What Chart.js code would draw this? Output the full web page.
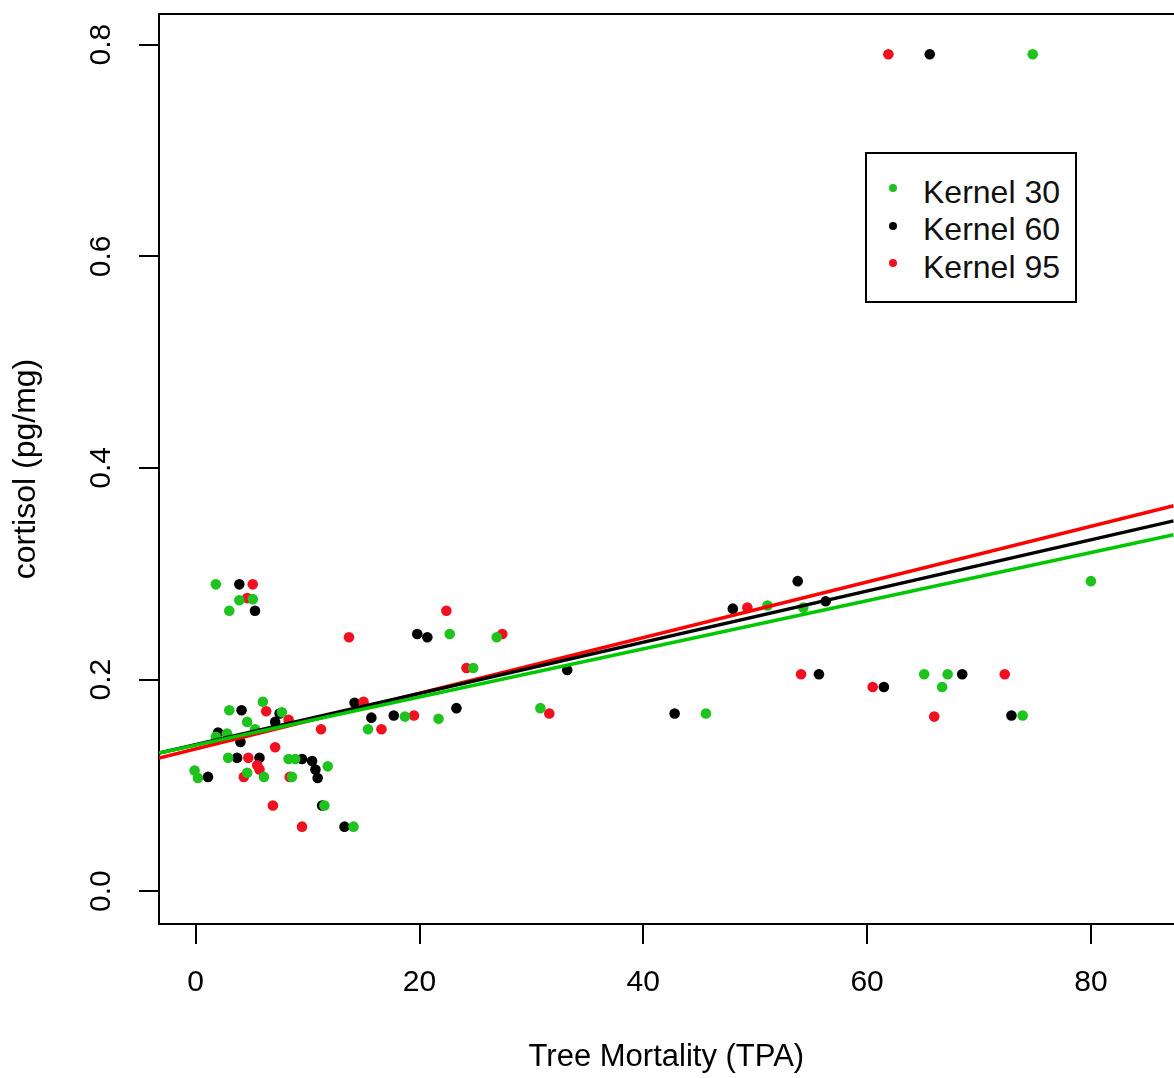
<!DOCTYPE html>
<html>
<head>
<meta charset="utf-8">
<script src="https://cdn.jsdelivr.net/npm/chart.js@4/dist/chart.umd.min.js"></script>
<style>
  html, body { margin: 0; padding: 0; background: #fff; overflow: hidden; }
  #wrap { position: relative; width: 1174px; height: 1078px; overflow: hidden; }
  #c { position: absolute; left: 0; top: 0; }
  .lg { position: absolute; font-family: "Liberation Sans", Arial, sans-serif; font-size: 32px; line-height: 32px; color: #111; white-space: nowrap; }
  .lgbox { position: absolute; border: 2px solid #000; box-sizing: border-box; background: #fff; }
  .lgdot { position: absolute; width: 8px; height: 8px; border-radius: 50%; }
</style>
</head>
<body>
<div id="wrap">
  <canvas id="c" width="1179" height="1078"></canvas>
</div>
<script>
// ---- data ----
const seriesNames = ['Kernel 30', 'Kernel 60', 'Kernel 95'];
const seriesColors = ['#1ec31e', '#000000', '#f01020'];
const lineColors = ['#00c800', '#000000', '#ff0000'];

const k30X = [74.8, 80.0, 51.1, 54.3, 65.1, 67.2, 66.7, 45.6, 73.9, 1.8, 3.9, 5.1, 3.0, 6.0, 3.0, 7.7, 4.6, 5.3, 2.8, 1.8, 15.4, 2.9, 8.3, 8.9, 11.8, -0.1, 0.2, 4.6, 6.1, 8.6, 11.5, 14.1, 22.7, 26.9, 24.8, 18.7, 21.7, 30.8];
const k30Y = [0.791, 0.293, 0.270, 0.268, 0.205, 0.205, 0.193, 0.168, 0.166, 0.290, 0.275, 0.276, 0.265, 0.179, 0.171, 0.169, 0.160, 0.153, 0.149, 0.146, 0.153, 0.126, 0.125, 0.125, 0.118, 0.114, 0.107, 0.112, 0.108, 0.108, 0.081, 0.061, 0.243, 0.240, 0.211, 0.165, 0.163, 0.173];

const k60X = [65.6, 53.8, 48.0, 56.3, 55.7, 68.5, 61.5, 42.8, 72.9, 3.9, 5.3, 4.1, 7.5, 7.1, 2.0, 14.2, 15.7, 4.0, 3.7, 5.7, 9.5, 10.4, 10.7, 10.9, 1.1, 11.3, 13.3, 19.8, 20.7, 17.7, 23.3, 33.2];
const k60Y = [0.791, 0.293, 0.267, 0.274, 0.205, 0.205, 0.193, 0.168, 0.166, 0.290, 0.265, 0.171, 0.168, 0.160, 0.150, 0.178, 0.164, 0.141, 0.126, 0.126, 0.125, 0.123, 0.115, 0.107, 0.108, 0.081, 0.061, 0.243, 0.240, 0.166, 0.173, 0.209];

const k95X = [61.9, 49.3, 54.1, 72.3, 60.5, 66.0, 5.1, 4.6, 13.7, 6.3, 8.3, 11.2, 15.0, 7.1, 4.7, 5.5, 4.3, 5.7, 8.4, 6.9, 9.5, 22.4, 27.4, 24.2, 19.5, 16.6, 31.6];
const k95Y = [0.791, 0.268, 0.205, 0.205, 0.193, 0.165, 0.290, 0.277, 0.240, 0.170, 0.162, 0.153, 0.179, 0.136, 0.126, 0.119, 0.108, 0.115, 0.108, 0.081, 0.061, 0.265, 0.243, 0.211, 0.166, 0.153, 0.168];

// fitted regression lines (end points read at the plot edges)
const fitX = [-3.28, 87.4];
const fit30Y = [0.1305, 0.3368];
const fit60Y = [0.1305, 0.3500];
const fit95Y = [0.1258, 0.3642];

const xTicks = [0, 20, 40, 60, 80];
const xTickLabels = ['0', '20', '40', '60', '80'];
const yTicks = [0.0, 0.2, 0.4, 0.6, 0.8];
const yTickLabels = ['0.0', '0.2', '0.4', '0.6', '0.8'];
const xTitle = 'Tree Mortality (TPA)';
const yTitle = 'cortisol (pg/mg)';
// ----------------------------------------------

const FONT = '"Liberation Sans", Arial, Helvetica, sans-serif';
const pts = (xs, ys) => xs.map((x, i) => ({ x: x, y: ys[i] }));

const pointSets = [pts(k30X, k30Y), pts(k60X, k60Y), pts(k95X, k95Y)];
const lineSets = [pts(fitX, fit30Y), pts(fitX, fit60Y), pts(fitX, fit95Y)];

const datasets = [];
lineSets.forEach((d, i) => {
  datasets.push({
    label: seriesNames[i] + ' fit', data: d, showLine: true,
    borderColor: lineColors[i], borderWidth: 3.5, pointRadius: 0, pointHoverRadius: 0,
    fill: false, order: i
  });
});
const ptOrder = [3, 5, 4];
pointSets.forEach((d, i) => {
  datasets.push({
    label: seriesNames[i], data: d, showLine: false,
    backgroundColor: seriesColors[i], borderWidth: 0, pointRadius: 5.3, pointHoverRadius: 5.3,
    order: ptOrder[i]
  });
});

const frame = {
  id: 'frame',
  afterDraw(chart) {
    const { ctx, chartArea } = chart;
    ctx.save();
    ctx.strokeStyle = '#000';
    ctx.lineWidth = 2;
    ctx.beginPath();
    ctx.moveTo(chartArea.left - 1, chartArea.top);
    ctx.lineTo(chartArea.right + 2, chartArea.top);
    ctx.stroke();
    ctx.restore();
  }
};

function zeroPad(s) { s.paddingTop = 0; s.paddingBottom = 0; s.paddingLeft = 0; s.paddingRight = 0; }

new Chart(document.getElementById('c'), {
  type: 'scatter',
  data: { datasets },
  options: {
    responsive: false,
    animation: false,
    devicePixelRatio: 1,
    layout: { padding: { left: 0, top: 14, right: 0, bottom: 0 } },
    plugins: { legend: { display: false }, tooltip: { enabled: false } },
    scales: {
      x: {
        type: 'linear', min: -3.28, max: 87.4,
        afterBuildTicks: (s) => { s.ticks = xTicks.map(v => ({ value: v })); },
        afterFit: (s) => { s.height = 154; zeroPad(s); },
        ticks: {
          autoSkip: false, maxRotation: 0, minRotation: 0, padding: 20.6,
          color: '#000', font: { family: FONT, size: 30 },
          callback: (v) => { const i = xTicks.indexOf(v); return i >= 0 ? xTickLabels[i] : ''; }
        },
        grid: { drawOnChartArea: false, drawTicks: true, tickLength: 20, tickColor: '#000', tickWidth: 2, lineWidth: 2, color: '#000' },
        border: { display: true, color: '#000', width: 2 },
        title: { display: true, text: xTitle, color: '#000', font: { family: FONT, size: 31 }, padding: { top: 0, bottom: 2.1 } }
      },
      y: {
        type: 'linear', min: -0.031, max: 0.829,
        afterBuildTicks: (s) => { s.ticks = yTicks.map(v => ({ value: v })); },
        afterFit: (s) => { s.width = 159; zeroPad(s); },
        ticks: {
          autoSkip: false, minRotation: 90, maxRotation: 90, padding: 16.5, crossAlign: 'center',
          color: '#000', font: { family: FONT, size: 30 },
          callback: (v) => { const i = yTicks.findIndex(t => Math.abs(t - v) < 1e-9); return i >= 0 ? yTickLabels[i] : ''; }
        },
        grid: { drawOnChartArea: false, drawTicks: true, tickLength: 20, tickColor: '#000', tickWidth: 2, lineWidth: 2, color: '#000' },
        border: { display: true, color: '#000', width: 2 },
        title: { display: true, text: yTitle, color: '#000', font: { family: FONT, size: 32 }, padding: { top: 7.2, bottom: 0 } }
      }
    }
  },
  plugins: [frame]
});

// legend (HTML, positioned over the plot area)
(function buildLegend() {
  const wrap = document.getElementById('wrap');
  const box = document.createElement('div');
  box.className = 'lgbox';
  Object.assign(box.style, { left: '865px', top: '152px', width: '212px', height: '151px' });
  wrap.appendChild(box);
  const baselines = [203.3, 240.5, 278];
  seriesNames.forEach((name, i) => {
    const dot = document.createElement('div');
    dot.className = 'lgdot';
    dot.style.background = seriesColors[i];
    dot.style.left = (893 - 4) + 'px';
    dot.style.top = (baselines[i] - 15 - 4) + 'px';
    wrap.appendChild(dot);
    const t = document.createElement('span');
    t.className = 'lg';
    t.textContent = name;
    t.style.left = '923px';
    t.style.top = (baselines[i] - 27.1) + 'px';
    wrap.appendChild(t);
  });
})();
</script>
</body>
</html>
